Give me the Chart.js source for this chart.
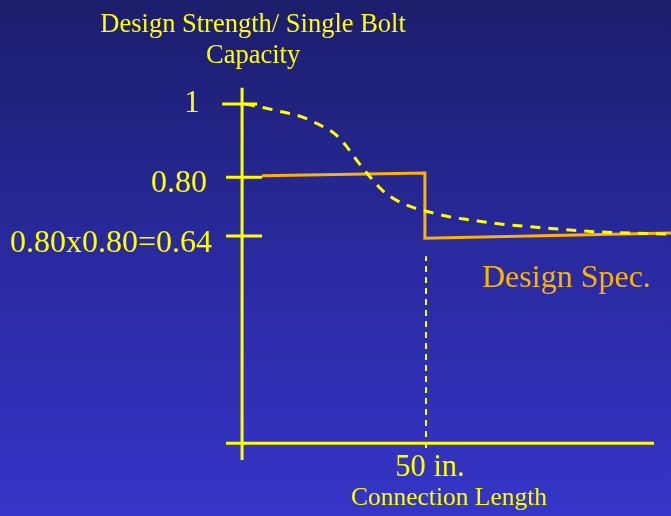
<!DOCTYPE html>
<html>
<head>
<meta charset="utf-8">
<script src="https://cdn.jsdelivr.net/npm/chart.js@4.4.1/dist/chart.umd.min.js"></script>
<style>
  html, body { margin: 0; padding: 0; background: #24258a; }
  #wrap { width: 671px; height: 516px; position: relative; }
  canvas { display: block; }
</style>
</head>
<body>
<div id="wrap"><canvas id="c" width="671" height="516"></canvas></div>
<script>
// ---- Data (schematic values) ----
const tickValues = [1, 0.80, 0.64];
const tickLabels = ['1', '0.80', '0.80x0.80=0.64'];
const yAxisTitle = ['Design Strength/ Single Bolt', 'Capacity'];
const xAxisTitle = 'Connection Length';
const xMarkValue = 50;
const xMarkLabel = '50 in.';
const specLabel = 'Design Spec.';

// single-bolt capacity curve (dashed)
const capacityX = [0.8, 6.3, 11.1, 16.3, 20.7, 25.3, 28.5, 31.5, 34.8, 38.3, 42.4, 47.0, 51.9, 56.5, 62.0, 70.1, 82.3, 97.3, 116.6];
const capacityY = [1.000, 0.989, 0.978, 0.965, 0.945, 0.918, 0.883, 0.842, 0.801, 0.763, 0.735, 0.716, 0.703, 0.692, 0.684, 0.673, 0.662, 0.651, 0.645];

// design specification (step line)
const specX = [5.4, 49.7, 49.7, 116.6];
const specY = [0.804, 0.812, 0.634, 0.648];

// axis extents (data units)
const axisBase = 0.075;
const xAxisFrom = -4.35, xAxisTo = 112;
const yAxisFrom = 0.029, yAxisTo = 1.044;
const markFrom = 0.062, markTo = 0.585;

const YELLOW = '#FFFF00';
const ORANGE = '#FFB300';

function pts(xs, ys) { return xs.map((x, i) => ({ x: x, y: ys[i] })); }

const datasets = [];
datasets.push({
  data: pts(capacityX, capacityY), borderColor: YELLOW, borderWidth: 3,
  borderDash: [10, 8], cubicInterpolationMode: 'monotone'
});
datasets.push({ data: pts(specX, specY), borderColor: ORANGE, borderWidth: 3, tension: 0 });
datasets.push({
  data: [{ x: xMarkValue, y: markFrom }, { x: xMarkValue, y: markTo }],
  borderColor: YELLOW, borderWidth: 2, borderDash: [6, 5]
});
datasets.push({ data: [{ x: 0, y: yAxisFrom }, { x: 0, y: yAxisTo }], borderColor: YELLOW, borderWidth: 3 });
datasets.push({ data: [{ x: xAxisFrom, y: axisBase }, { x: xAxisTo, y: axisBase }], borderColor: YELLOW, borderWidth: 3 });
tickValues.forEach((v, i) => {
  const a = i === 0 ? -5.4 : -4.35, b = i === 0 ? 4.1 : 5.45;
  datasets.push({ data: [{ x: a, y: v }, { x: b, y: v }], borderColor: YELLOW, borderWidth: 3 });
});
datasets.forEach(d => { d.showLine = true; d.pointRadius = 0; d.pointHoverRadius = 0; d.fill = false; d.clip = false; });

const bgPlugin = {
  id: 'bg',
  beforeDraw(chart) {
    const ctx = chart.ctx;
    const g = ctx.createLinearGradient(0, 0, 0, chart.height);
    g.addColorStop(0, '#1c1d6b');
    g.addColorStop(0.5, '#292a9f');
    g.addColorStop(1, '#3535c9');
    ctx.save();
    ctx.fillStyle = g;
    ctx.fillRect(0, 0, chart.width, chart.height);
    ctx.restore();
  }
};

const textPlugin = {
  id: 'texts',
  afterDraw(chart) {
    const ctx = chart.ctx;
    const xs = chart.scales.x, ys = chart.scales.y;
    const x0 = xs.getPixelForValue(0);
    ctx.save();
    ctx.fillStyle = YELLOW;
    ctx.textBaseline = 'alphabetic';
    // axis title
    ctx.font = '26.5px "Liberation Serif", "Times New Roman", serif';
    ctx.textAlign = 'center';
    ctx.fillText(yAxisTitle[0], x0 + 11, 32);
    ctx.fillText(yAxisTitle[1], x0 + 11, 63);
    // tick labels
    ctx.font = '32px "Liberation Serif", "Times New Roman", serif';
    ctx.textAlign = 'right';
    const offs = [[-42, 8], [-35, 15], [-30, 16]];
    tickValues.forEach((v, i) => {
      ctx.fillText(tickLabels[i], x0 + offs[i][0], ys.getPixelForValue(v) + offs[i][1]);
    });
    // x mark label
    ctx.textAlign = 'center';
    ctx.font = '30.5px "Liberation Serif", "Times New Roman", serif';
    ctx.fillText(xMarkLabel, xs.getPixelForValue(xMarkValue) + 4, 476);
    ctx.font = '25.5px "Liberation Serif", "Times New Roman", serif';
    ctx.fillText(xAxisTitle, 449, 505);
    // design spec label
    ctx.fillStyle = ORANGE;
    ctx.textAlign = 'left';
    ctx.font = '32px "Liberation Serif", "Times New Roman", serif';
    ctx.fillText(specLabel, 482, 287);
    ctx.restore();
  }
};

new Chart(document.getElementById('c'), {
  type: 'scatter',
  data: { datasets: datasets },
  options: {
    responsive: false,
    animation: false,
    events: [],
    layout: { padding: 0 },
    plugins: { legend: { display: false }, tooltip: { enabled: false } },
    scales: {
      x: { type: 'linear', display: false, min: -65.8, max: 116.6 },
      y: { type: 'linear', display: false, min: -0.1236, max: 1.2836 }
    }
  },
  plugins: [bgPlugin, textPlugin]
});
</script>
</body>
</html>
